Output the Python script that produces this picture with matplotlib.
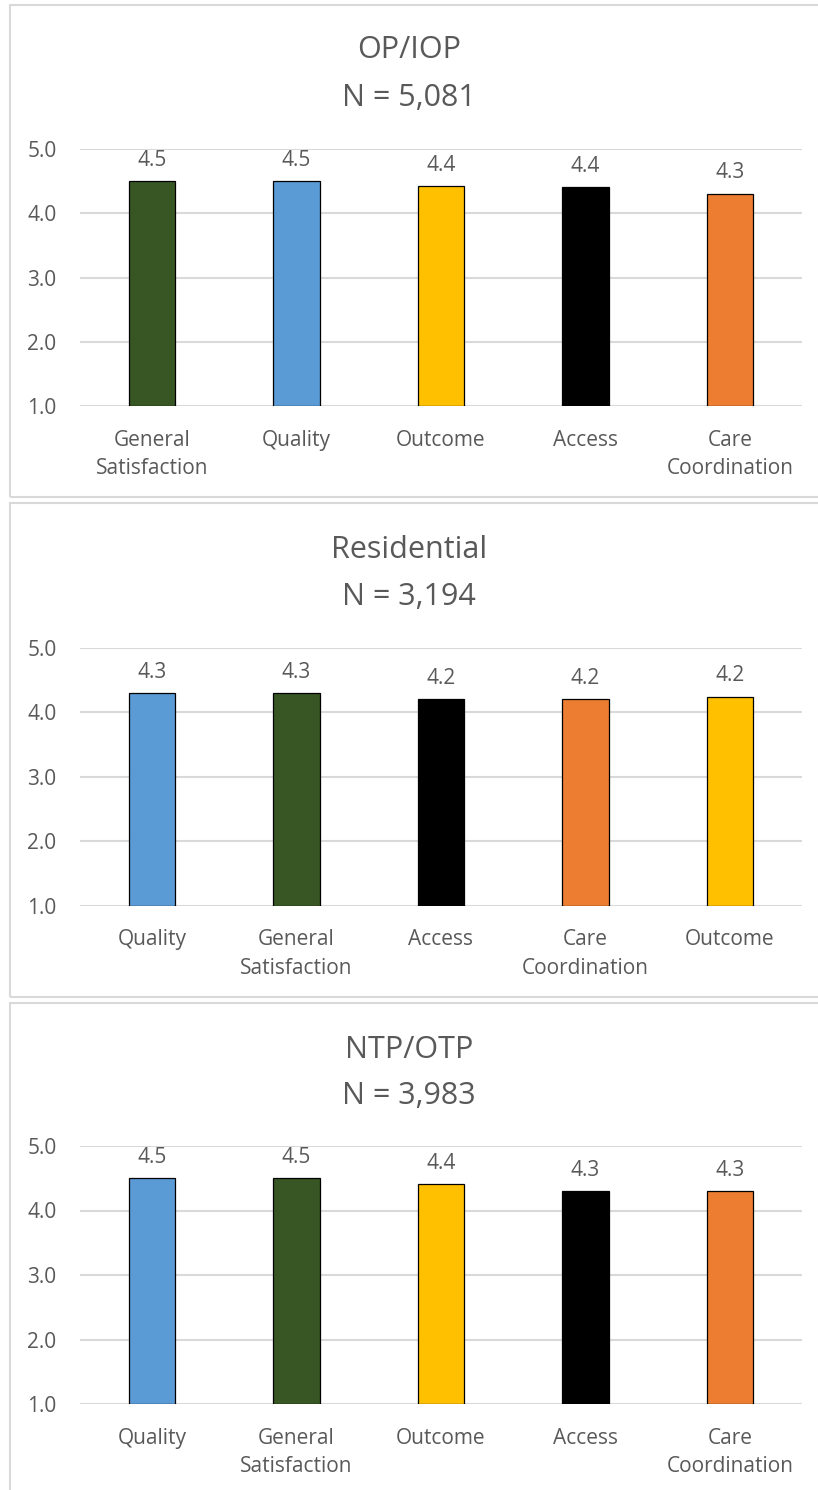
import matplotlib
matplotlib.use("Agg")
import matplotlib.pyplot as plt
from matplotlib.patches import Rectangle

plt.rcParams['font.family'] = ['Open Sans', 'DejaVu Sans']

# Survey domain scores by program type
op_titles = ("OP/IOP", "N = 5,081")
op_categories = ["General\nSatisfaction", "Quality", "Outcome", "Access", "Care\nCoordination"]
op_values = [4.50, 4.50, 4.42, 4.40, 4.30]
op_labels = ["4.5", "4.5", "4.4", "4.4", "4.3"]

res_titles = ("Residential", "N = 3,194")
res_categories = ["Quality", "General\nSatisfaction", "Access", "Care\nCoordination", "Outcome"]
res_values = [4.30, 4.30, 4.20, 4.20, 4.24]
res_labels = ["4.3", "4.3", "4.2", "4.2", "4.2"]

ntp_titles = ("NTP/OTP", "N = 3,983")
ntp_categories = ["Quality", "General\nSatisfaction", "Outcome", "Access", "Care\nCoordination"]
ntp_values = [4.50, 4.50, 4.41, 4.30, 4.30]
ntp_labels = ["4.5", "4.5", "4.4", "4.3", "4.3"]

y_ticks = [1.0, 2.0, 3.0, 4.0, 5.0]

# Fixed colour per survey domain
domain_colors = {
    "General\nSatisfaction": "#375623",
    "Quality": "#5B9BD5",
    "Outcome": "#FFC000",
    "Access": "#000000",
    "Care\nCoordination": "#ED7D31",
}

TEXT = "#595959"
GRID = "#D9D9D9"

W, H = 818, 1490
fig = plt.figure(figsize=(W / 100, H / 100), dpi=100)


def fx(px):
    return px / W


def fy(py):
    return 1 - py / H


panels = [
    (op_titles, op_categories, op_values, op_labels, 5, 497, 50, 98, 148.7, 406.3),
    (res_titles, res_categories, res_values, res_labels, 503, 997, 550, 597, 647.7, 905.7),
    (ntp_titles, ntp_categories, ntp_values, ntp_labels, 1003, 1500, 1050, 1096, 1146, 1404),
]

for titles, cats, vals, labs, box_top, box_bot, t1, t2, ax_top, ax_bot in panels:
    # panel frame
    fig.patches.append(Rectangle((fx(10), fy(box_bot)), fx(830) - fx(10), fy(box_top) - fy(box_bot),
                                 transform=fig.transFigure, fill=False,
                                 edgecolor=GRID, linewidth=1.5, zorder=0))
    fig.text(0.5, fy(t1), titles[0], ha="center", va="center", fontsize=22, color=TEXT)
    fig.text(0.5, fy(t2), titles[1], ha="center", va="center", fontsize=22, color=TEXT)

    ax = fig.add_axes([fx(80), fy(ax_bot), fx(802) - fx(80), fy(ax_top) - fy(ax_bot)])
    x = range(len(cats))
    colors = [domain_colors[c] for c in cats]
    bars = ax.bar(x, [v - 1.0 for v in vals], bottom=1.0, width=0.32, color=colors,
                  edgecolor="black", linewidth=0.9, zorder=3)
    for rect, lab in zip(bars, labs):
        ax.annotate(lab, (rect.get_x() + rect.get_width() / 2, rect.get_y() + rect.get_height()),
                    xytext=(0, 15), textcoords="offset points", ha="center", va="center",
                    fontsize=15, color=TEXT)

    ax.set_xlim(-0.5, len(cats) - 0.5)
    ax.set_ylim(1.0, 5.0)
    ax.set_yticks(y_ticks)
    ax.set_yticklabels([f"{t:.1f}" for t in y_ticks])
    ax.set_xticks(list(x))
    ax.set_xticklabels(cats, linespacing=1.45)
    ax.tick_params(axis="both", length=0, labelsize=15, labelcolor=TEXT)
    ax.tick_params(axis="y", pad=17)
    ax.tick_params(axis="x", pad=17)
    ax.grid(axis="y", color=GRID, linewidth=1.5, zorder=0)
    ax.set_axisbelow(True)
    for s in ax.spines.values():
        s.set_visible(False)
    ax.patch.set_alpha(0)

fig.savefig("out.png", dpi=100)
